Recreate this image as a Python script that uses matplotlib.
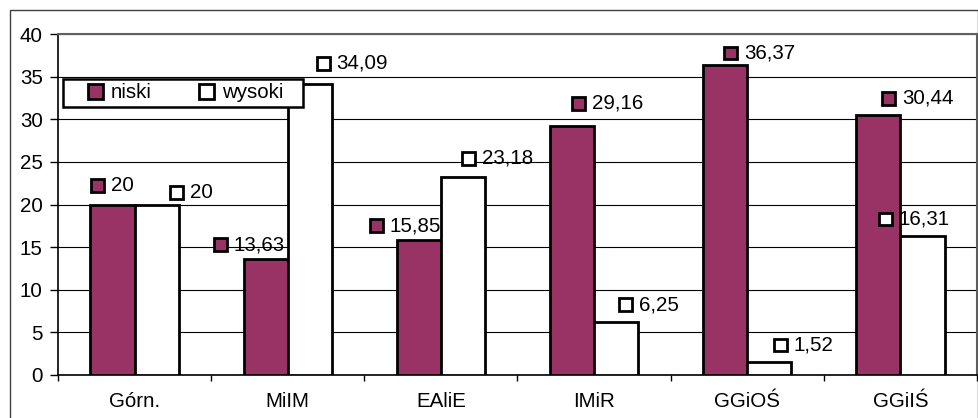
import numpy as np
import matplotlib
matplotlib.use("Agg")
import matplotlib.pyplot as plt
from matplotlib.patches import Rectangle
from matplotlib.offsetbox import AnnotationBbox, DrawingArea, TextArea, HPacker

plt.rcParams['font.family'] = ['Liberation Sans', 'DejaVu Sans']

# dane
kategorie = ["Górn.", "MiIM", "EAliE", "IMiR", "GGiOŚ", "GGiIŚ"]
niski = [20, 13.63, 15.85, 29.16, 36.37, 30.44]
wysoki = [20, 34.09, 23.18, 6.25, 1.52, 16.31]
serie = ["niski", "wysoki"]

# przesunięcia etykiet (px) względem środka wierzchołka słupka
off_niski = [(-1, 19), (-17, 14), (-14, 14), (35, 23), (34, 12), (39, 17)]
off_wysoki = [(34, 12), (42, 21), (34, 19), (32, 17), (34, 17), (-9, 17)]

kolor_n = "#993366"
kolor_w = "#ffffff"
FS = 14.8
W, H = 979, 418

fig = plt.figure(figsize=(W / 100, H / 100), dpi=100)
ax = fig.add_axes([58 / W, (H - 375) / H, (977 - 58) / W, (375 - 34) / H])


def px(xp, yp):
    # piksele obrazka -> współrzędne osi
    return (xp - 58) / 919, (375 - yp) / 341


# ramka całego wykresu
fig.patches.append(Rectangle((10 / W, -0.05), (978 - 10) / W, 1.05 - 10 / H,
                             transform=fig.transFigure, fill=False,
                             ec="#404040", lw=1.0, zorder=0))

x = np.arange(len(kategorie))
bw = 0.288
ax.bar(x - bw / 2, niski, bw, color=kolor_n, edgecolor="black", lw=2, zorder=3)
ax.bar(x + bw / 2, wysoki, bw, color=kolor_w, edgecolor="black", lw=2, zorder=3)

ax.set_xlim(-0.5, len(kategorie) - 0.5)
ax.set_ylim(0, 40)
ax.set_yticks(np.arange(0, 41, 5))
ax.yaxis.grid(True, color="black", lw=0.8, zorder=0)
ax.set_axisbelow(True)

ax.set_xticks(x)
ax.set_xticklabels(kategorie, fontsize=FS)
ax.set_xticks(np.arange(-0.5, len(kategorie), 1), minor=True)
ax.tick_params(axis="x", which="major", length=0, pad=12)
ax.tick_params(axis="x", which="minor", length=4, width=1, direction="out")
ax.tick_params(axis="y", length=6, width=1, pad=5, labelsize=FS)

for s in ["left", "bottom"]:
    ax.spines[s].set_color("black")
    ax.spines[s].set_linewidth(1.2)
for s in ["top", "right"]:
    ax.spines[s].set_color("#606060")
    ax.spines[s].set_linewidth(1.5)


def etykieta(xc, val, kolor, off):
    da = DrawingArea(11, 11, 0, 0)
    da.add_artist(Rectangle((0.9, 0.9), 9.2, 9.2, fc=kolor, ec="black", lw=2))
    txt = TextArea(f"{val:g}".replace(".", ","), textprops=dict(fontsize=FS))
    box = HPacker(children=[da, txt], align="center", pad=0, sep=4)
    ab = AnnotationBbox(box, (xc, val), xybox=off, boxcoords="offset pixels",
                        frameon=False, box_alignment=(0.5, 0.5), pad=0,
                        zorder=5)
    ax.add_artist(ab)


for i in range(len(kategorie)):
    etykieta(x[i] - bw / 2, niski[i], kolor_n, off_niski[i])
    etykieta(x[i] + bw / 2, wysoki[i], kolor_w, off_wysoki[i])

# legenda: biała ramka + wpisy
x0, y0 = px(63, 107)
x1, y1 = px(303, 79)
ax.add_patch(Rectangle((x0, y0), x1 - x0, y1 - y0, transform=ax.transAxes,
                       fc="white", ec="black", lw=1.8, zorder=6, clip_on=False))
uchwyty = [Rectangle((0, 0), 1, 1, fc=kolor_n, ec="black", lw=2),
           Rectangle((0, 0), 1, 1, fc=kolor_w, ec="black", lw=2)]
leg = ax.legend(uchwyty, serie, ncol=2, loc="center left",
                bbox_to_anchor=px(88, 93), borderaxespad=0, borderpad=0,
                fontsize=FS, frameon=False, handlelength=0.72,
                handleheight=0.72, handletextpad=0.4, columnspacing=2.3)
leg.set_zorder(7)

fig.savefig("out.png", dpi=100)
